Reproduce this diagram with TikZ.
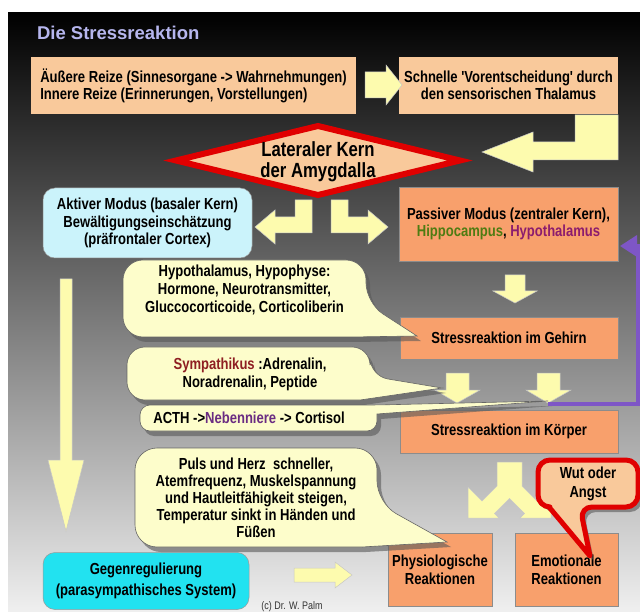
\documentclass[tikz,border=0pt]{standalone}
\usepackage{fontspec}
\setmainfont{Liberation Sans}
\newfontfamily\nfont{Liberation Sans}[FakeStretch=0.815]
\newfontfamily\tfont{Liberation Sans}
\usetikzlibrary{shapes.geometric,arrows.meta}
\definecolor{peach}{HTML}{F9C99B}
\definecolor{orangebox}{HTML}{F8A06C}
\definecolor{arrowy}{HTML}{FDFBAE}
\definecolor{callouty}{HTML}{FDFDCB}
\definecolor{lcyan}{HTML}{CBF3FB}
\definecolor{cyanb}{HTML}{22E2F0}
\definecolor{redb}{HTML}{E00000}
\definecolor{purp}{HTML}{7E56C6}
\definecolor{titlec}{HTML}{B6B6EE}
\definecolor{hippo}{HTML}{4E7C12}
\definecolor{hypo}{HTML}{8C1C6E}
\definecolor{sympc}{HTML}{8E1E22}
\definecolor{nebc}{HTML}{6A2C82}
\tikzset{
  every node/.style={inner sep=0pt, outer sep=0pt},
  tx/.style={font=\nfont\bfseries\fontsize{16pt}{#1}\selectfont, align=center, text=black},
  pbox/.style={rectangle, fill=peach},
  obox/.style={rectangle, fill=orangebox, draw=black!45, line width=0.5pt},
  yarrow/.style={fill=arrowy, draw=black!22, line width=0.5pt},
  callshadow/.style={fill=black!65, opacity=0.6},
  callbody/.style={fill=callouty, draw=black!60, line width=0.6pt},
}
\newcommand\calloutA{(244,260) [rounded corners=20pt] -- (366,260) -- (366,303) [sharp corners] -- (417,336) -- (350,337) [rounded corners=20pt] -- (123,337) -- (123,260) -- cycle}
\newcommand\calloutB{(248,347) [rounded corners=18pt] -- (370,347) -- (370,376) [sharp corners] -- (442,388) -- (360,400) [rounded corners=18pt] -- (127,400) -- (127,347) -- cycle}
\newcommand\calloutC{(258,405) [rounded corners=10pt] -- (377,405) [sharp corners] -- (548,401) -- (377,414) [rounded corners=10pt] -- (377,431) -- (140,431) -- (140,405) -- cycle}
\newcommand\calloutD{(256,448) [rounded corners=22pt] -- (377,448) -- (377,503) [sharp corners] -- (447,542) -- (362,547) [rounded corners=22pt] -- (135,547) -- (135,448) -- cycle}
\newcommand\calloutE{(588,460) [rounded corners=12pt] -- (638,460) -- (638,507) -- (580,507) [sharp corners] -- (590,556) -- (549,507) [rounded corners=12pt] -- (538,507) -- (538,460) -- cycle}
\begin{document}
\begin{tikzpicture}[x=1pt,y=-1pt]
\useasboundingbox (0,0) rectangle (640,612);
\fill[white] (0,0) rectangle (640,612);
\shade[top color=black, middle color=black!55, bottom color=black!6] (8,13) rectangle (640,612);

% title
\node[anchor=base west, font=\tfont\bfseries\fontsize{18.5pt}{20pt}\selectfont, text=titlec] (title) at (37,39.5) {Die Stressreaktion};

% top boxes
\node[pbox, minimum width=325pt, minimum height=57pt, tx=17pt, align=left] (reize) at (193.5,85.5) {Äußere Reize (Sinnesorgane -> Wahrnehmungen)\\Innere Reize (Erinnerungen, Vorstellungen)};
\node[pbox, minimum width=219pt, minimum height=57pt, tx=17pt] (thal) at (508.5,85.5) {Schnelle 'Vorentscheidung' durch\\den sensorischen Thalamus};

% arrows top
\draw[yarrow] (365,72) -- (386,72) -- (386,65) -- (402,85) -- (386,105) -- (386,98) -- (365,98) -- cycle;
\draw[yarrow] (575,115) -- (618,115) -- (618,160) -- (533,160) -- (533,172) -- (482,152) -- (533,132) -- (533,142) -- (575,142) -- cycle;

% diamond
\draw[redb, line width=6pt, fill=peach] (176,160.5) -- (318,126) -- (460,160.5) -- (318,195) -- cycle;
\node[font=\nfont\bfseries\fontsize{20.5pt}{21pt}\selectfont, align=center] (amyg) at (318,162) {Lateraler Kern\\der Amygdalla};

% modus boxes
\node[rounded corners=12pt, fill=lcyan, draw=black!40, line width=0.5pt, minimum width=209pt, minimum height=70pt, tx=17.5pt] (aktiv) at (147.5,223) {Aktiver Modus (basaler Kern)\\Bewältigungseinschätzung\\(präfrontaler Cortex)};
\node[obox, minimum width=219pt, minimum height=74pt, tx=17pt] (passiv) at (508.5,224) {Passiver Modus (zentraler Kern),\\\textcolor{hippo}{Hippocampus}, \textcolor{hypo}{Hypothalamus}};

\draw[yarrow] (295,200) -- (312,200) -- (312,233) -- (275,233) -- (275,244) -- (255,227) -- (275,210) -- (275,217) -- (295,217) -- cycle;
\draw[yarrow] (331,200) -- (348,200) -- (348,217) -- (368,217) -- (368,210) -- (388,227) -- (368,244) -- (368,233) -- (331,233) -- cycle;

% right column
\draw[yarrow] (505,275) -- (525,275) -- (525,291) -- (537,291) -- (515,303) -- (493,291) -- (505,291) -- cycle;
\node[obox, minimum width=218pt, minimum height=42pt, tx=17pt] (gehirn) at (509,338) {Stressreaktion im Gehirn};
\draw[yarrow] (446,373) -- (469,373) -- (469,390) -- (480,390) -- (457,403) -- (435,390) -- (446,390) -- cycle;
\draw[yarrow] (537,373) -- (560,373) -- (560,390) -- (571,390) -- (548,403) -- (526,390) -- (537,390) -- cycle;
\coordinate (rtip) at (548,404);
\coordinate (pin) at (620,246);
\draw[purp, line width=3.5pt, -{Triangle[length=17pt,width=21pt]}] (rtip) -- (638,404) -- (638,246) -- (pin);
\node[obox, minimum width=218pt, minimum height=43pt, tx=17pt] (koerper) at (509,431.5) {Stressreaktion im Körper};

\draw[yarrow] (497,462) -- (522,462) -- (522,486) -- (537,501) -- (551,487) -- (551,518) -- (520,518) -- (524.5,513.5) -- (509.5,498.5) -- (494.5,513.5) -- (499,518) -- (468,518) -- (468,487) -- (482,501) -- (497,486) -- cycle;

\node[obox, minimum width=104pt, minimum height=73pt, tx=18pt] (phys) at (440,569.5) {Physiologische\\Reaktionen};
\node[obox, minimum width=103pt, minimum height=73pt, tx=18pt] (emot) at (566.5,569.5) {Emotionale\\Reaktionen};

% left column
\draw[yarrow] (60,279) -- (72,279) -- (72,460) -- (84,460) -- (66,531) -- (48,460) -- (60,460) -- cycle;
\node[rounded corners=12pt, fill=cyanb, draw=black!40, line width=0.5pt, minimum width=206pt, minimum height=57pt, tx=21pt] (gegen) at (146,581) {Gegenregulierung\\(parasympathisches System)};
\draw[yarrow] (294,568) -- (335,568) -- (335,562) -- (352,575) -- (335,588) -- (335,582) -- (294,582) -- cycle;
\node[anchor=base, font=\nfont\fontsize{11pt}{12pt}\selectfont, text=black!80] (copy) at (292,609) {(c) Dr. W. Palm};

% callouts
\begin{scope}[shift={(4,5)}]
\fill[callshadow] \calloutA;
\fill[callshadow] \calloutB;
\fill[callshadow] \calloutC;
\fill[callshadow] \calloutD;
\fill[callshadow] \calloutE;
\end{scope}
\draw[callbody] \calloutA;
\draw[callbody] \calloutB;
\draw[callbody] \calloutC;
\draw[callbody] \calloutD;
\draw[fill=peach, draw=redb, line width=5pt, line join=round] \calloutE;

\node[tx=18pt] (hyp) at (244.5,290) {Hypothalamus, Hypophyse:\\Hormone, Neurotransmitter,\\Gluccocorticoide, Corticoliberin};
\node[tx=18pt] (symp) at (250,374) {\textcolor{sympc}{Sympathikus} :Adrenalin,\\Noradrenalin, Peptide};
\node[tx=17pt] (acth) at (249,418) {ACTH ->\textcolor{nebc}{Nebenniere} -> Cortisol};
\node[tx=17pt] (puls) at (256,497.5) {Puls und Herz~ schneller,\\Atemfrequenz, Muskelspannung\\und Hautleitfähigkeit steigen,\\Temperatur sinkt in Händen und\\Füßen};
\node[tx=19pt] (wut) at (588,484) {Wut oder\\Angst};
\end{tikzpicture}
\end{document}
